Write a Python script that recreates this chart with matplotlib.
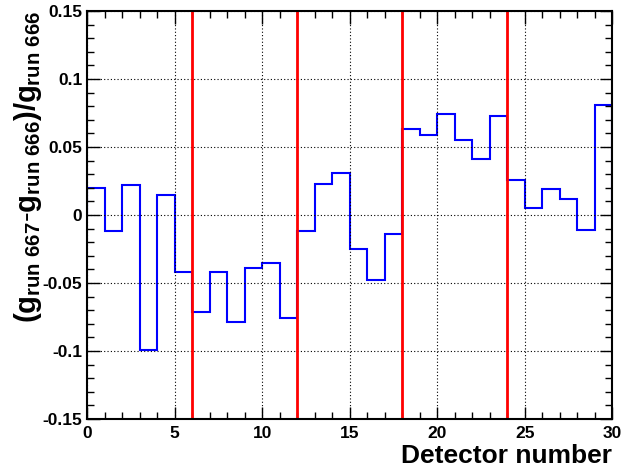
import matplotlib
matplotlib.use("Agg")
import matplotlib.pyplot as plt
import numpy as np
from matplotlib.ticker import MultipleLocator

# relative gain change per detector (30 bins)
bin_edges = np.arange(0, 31)
rel_change = [0.020, -0.012, 0.022, -0.099, 0.015, -0.042,
              -0.071, -0.042, -0.079, -0.039, -0.035, -0.076,
              -0.012, 0.023, 0.031, -0.025, -0.048, -0.014,
              0.063, 0.059, 0.074, 0.055, 0.041, 0.073,
              0.026, 0.005, 0.019, 0.012, -0.011, 0.081]
module_bounds = [6, 12, 18, 24]

plt.rcParams['font.family'] = ['Liberation Sans', 'DejaVu Sans']
plt.rcParams['font.weight'] = 'bold'
plt.rcParams['mathtext.fontset'] = 'custom'
plt.rcParams['mathtext.rm'] = 'Liberation Sans:bold'
plt.rcParams['mathtext.it'] = 'Liberation Sans:bold'
plt.rcParams['mathtext.bf'] = 'Liberation Sans:bold'

def main():
    fig = plt.figure(figsize=(6.26, 4.71), dpi=100)
    ax = fig.add_axes([0.139, 0.1104, 0.839, 0.8662])

    ax.stairs(rel_change, bin_edges, color='#0000ff', linewidth=1.5)
    for xb in module_bounds:
        ax.axvline(xb, color='#ff0000', linewidth=2)

    ax.set_xlim(0, 30)
    ax.set_ylim(-0.15, 0.15)
    ax.xaxis.set_major_locator(MultipleLocator(5))
    ax.xaxis.set_minor_locator(MultipleLocator(1))
    ax.yaxis.set_major_locator(MultipleLocator(0.05))
    ax.yaxis.set_minor_locator(MultipleLocator(0.01))
    ax.yaxis.set_major_formatter(plt.FuncFormatter(lambda v, p: '0' if abs(v) < 1e-9 else ('%g' % round(v, 3))))
    ax.tick_params(which='both', direction='in', top=True, right=True, labelsize=12.5)
    ax.tick_params(which='major', length=9, width=1)
    ax.tick_params(which='minor', length=5, width=1)
    ax.tick_params(axis='x', pad=5)
    ax.grid(True, which='major', linestyle=(0, (1, 2)), color='black', linewidth=0.8)
    for s in ax.spines.values():
        s.set_linewidth(1.5)

    ax.set_xlabel('Detector number', fontsize=19, fontweight='bold', loc='right', labelpad=2)
    ax.set_ylabel(r'$(g_{run\ 667}$-$g_{run\ 666})/g_{run\ 666}$', fontsize=21, loc='top', labelpad=-1)

    plt.savefig('out.png', dpi=100)
    plt.close()


if __name__ == "__main__":
    main()
